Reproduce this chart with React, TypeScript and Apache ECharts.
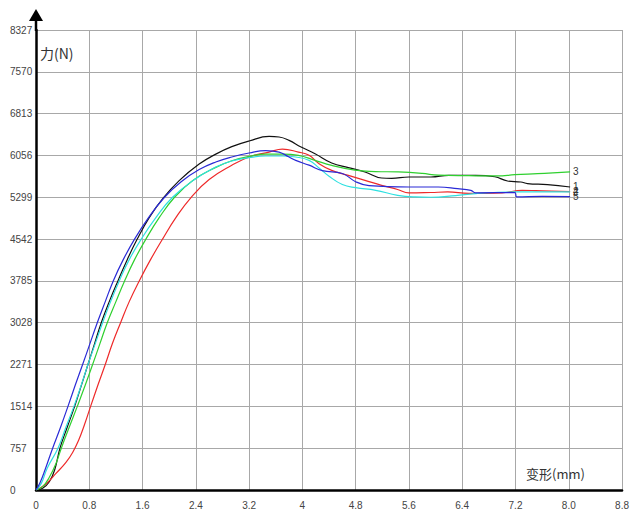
import React, { useEffect, useRef } from "react";
import * as echarts from "echarts";

// Force–deformation curves of five specimens: [deformation (mm), force (N)]
const specimen1: [number, number][] = [
  [0, 0], [0.1, 30], [0.2, 150], [0.28, 362], [0.36, 757], [0.47, 1140], [0.58, 1514],
  [0.68, 1890], [0.78, 2271], [0.88, 2650], [0.98, 3028], [1.1, 3410], [1.23, 3785],
  [1.37, 4170], [1.52, 4542], [1.7, 4930], [1.9, 5270], [2.15, 5600], [2.45, 5900],
  [2.7, 6080], [2.94, 6215], [3.2, 6317], [3.5, 6400], [3.65, 6390], [3.8, 6329],
  [3.98, 6208], [4.19, 6088], [4.44, 5920], [4.69, 5835], [4.94, 5757], [5.19, 5648],
  [5.34, 5640], [5.6, 5666], [5.93, 5666], [6.2, 5696], [6.6, 5696], [6.89, 5670],
  [7.08, 5594], [7.28, 5576], [7.38, 5546], [7.68, 5528], [8.02, 5485],
];

const specimen2: [number, number][] = [
  [0, 0], [0.15, 110], [0.3, 300], [0.45, 500], [0.55, 680], [0.64, 900], [0.73, 1190],
  [0.82, 1514], [0.93, 1900], [1.04, 2271], [1.15, 2660], [1.27, 3028], [1.4, 3410],
  [1.55, 3785], [1.72, 4170], [1.9, 4542], [2.1, 4930], [2.33, 5299], [2.6, 5620],
  [2.94, 5877], [3.2, 6028], [3.5, 6117], [3.7, 6170], [3.94, 6117], [4.1, 6058],
  [4.25, 5907], [4.44, 5786], [4.69, 5696], [4.94, 5606], [5.19, 5515], [5.43, 5440],
  [5.6, 5377], [5.93, 5385], [6.18, 5395], [6.5, 5370], [7.0, 5380], [7.3, 5425],
  [7.5, 5420], [8.02, 5400],
];

const specimen3: [number, number][] = [
  [0, 0], [0.1, 60], [0.2, 230], [0.3, 480], [0.38, 757], [0.5, 1140], [0.62, 1514],
  [0.74, 1900], [0.85, 2271], [0.96, 2650], [1.07, 3028], [1.2, 3410], [1.33, 3785],
  [1.48, 4170], [1.65, 4542], [1.85, 4930], [2.08, 5299], [2.35, 5600], [2.7, 5840],
  [2.94, 5960], [3.2, 6040], [3.45, 6080], [3.7, 6080], [3.94, 6058], [4.19, 5967],
  [4.44, 5877], [4.79, 5790], [5.1, 5765], [5.44, 5757], [5.8, 5730], [6.04, 5700],
  [6.5, 5690], [6.93, 5685], [7.19, 5708], [7.53, 5727], [8.02, 5757],
];

const specimen4: [number, number][] = [
  [0, 0], [0.08, 120], [0.17, 400], [0.33, 757], [0.45, 1140], [0.57, 1514],
  [0.68, 1900], [0.78, 2271], [0.89, 2650], [1.0, 3028], [1.12, 3410], [1.25, 3785],
  [1.4, 4170], [1.58, 4542], [1.8, 4930], [2.05, 5299], [2.38, 5620], [2.7, 5847],
  [2.94, 5955], [3.2, 6016], [3.45, 6046], [3.7, 6046], [3.9, 6028], [4.1, 5967],
  [4.25, 5830], [4.4, 5680], [4.6, 5530], [4.8, 5473], [5.1, 5425], [5.43, 5335],
  [5.69, 5305], [5.93, 5299], [6.3, 5330], [6.6, 5365], [7.19, 5395], [8.02, 5395],
];

const specimen5: [number, number][] = [
  [0, 0], [0.06, 130], [0.14, 380], [0.25, 757], [0.37, 1140], [0.48, 1514],
  [0.59, 1900], [0.7, 2271], [0.81, 2650], [0.92, 3028], [1.04, 3410], [1.16, 3785],
  [1.31, 4170], [1.48, 4542], [1.69, 4930], [1.93, 5299], [2.18, 5580], [2.45, 5800],
  [2.7, 5937], [2.94, 6028], [3.2, 6100], [3.45, 6145], [3.65, 6117], [3.8, 6028],
  [3.9, 5967], [4.1, 5880], [4.3, 5780], [4.6, 5730], [4.8, 5580], [5.0, 5510],
  [5.6, 5485], [6.04, 5485], [6.33, 5455], [6.53, 5425], [6.6, 5380], [7.19, 5383],
  [7.22, 5305], [7.6, 5315], [8.02, 5310],
];

const seriesNames = ["1", "2", "3", "4", "5"];
const seriesColors = ["#111111", "#ee2a2a", "#2fd02f", "#2ee0e0", "#2a2ad6"];
const seriesData = [specimen1, specimen2, specimen3, specimen4, specimen5];

const xTickLabels = ["0", "0.8", "1.6", "2.4", "3.2", "4", "4.8", "5.6", "6.4", "7.2", "8.0", "8.8"];
const yTickLabels = ["0", "757", "1514", "2271", "3028", "3785", "4542", "5299", "6056", "6813", "7570", "8327"];

const xStep = 0.8;
const yStep = 757;

export default function App() {
  const ref = useRef<HTMLDivElement>(null);

  useEffect(() => {
    if (!ref.current) return;
    const chart = echarts.init(ref.current, null, { renderer: "svg" });
    const tickFont = "Liberation Sans, Arial, sans-serif";
    const cjkFont = "Noto Sans CJK SC, sans-serif";

    chart.setOption({
      animation: false,
      backgroundColor: "#ffffff",
      grid: { left: 36, right: 7, top: 30, bottom: 28, containLabel: false },
      xAxis: {
        type: "value",
        min: 0,
        max: xStep * (xTickLabels.length - 1),
        interval: xStep,
        axisLine: { show: true, onZero: false, lineStyle: { color: "#000", width: 2.5 } },
        axisTick: { show: false },
        splitLine: { show: true, lineStyle: { color: "#a8a8a8", width: 1 } },
        axisLabel: {
          margin: 10,
          fontSize: 10,
          color: "#444",
          fontFamily: tickFont,
          formatter: (v: number) => xTickLabels[Math.round(v / xStep)] ?? "",
        },
      },
      yAxis: {
        type: "value",
        min: 0,
        max: yStep * (yTickLabels.length - 1),
        interval: yStep,
        axisLine: { show: true, onZero: false, lineStyle: { color: "#000", width: 2.5 } },
        axisTick: { show: false },
        splitLine: { show: true, lineStyle: { color: "#a8a8a8", width: 1 } },
        axisLabel: {
          margin: 26,
          align: "left",
          fontSize: 10,
          color: "#444",
          fontFamily: tickFont,
          formatter: (v: number) => yTickLabels[Math.round(v / yStep)] ?? "",
        },
      },
      series: seriesData.map((data, i) => ({
        name: seriesNames[i],
        type: "line",
        data,
        showSymbol: false,
        smooth: 0.45,
        lineStyle: { color: seriesColors[i], width: 1.2 },
        itemStyle: { color: seriesColors[i] },
        endLabel: {
          show: true,
          formatter: "{a}",
          distance: 3,
          fontSize: 10,
          color: "#333",
          fontFamily: tickFont,
        },
        z: 3,
      })),
      graphic: [
        {
          type: "line",
          shape: { x1: 36, y1: 31, x2: 36, y2: 18 },
          style: { stroke: "#000", lineWidth: 2.5 },
          z: 10,
        },
        {
          type: "polygon",
          shape: { points: [[36, 9], [29, 21], [43, 21]] },
          style: { fill: "#000" },
          z: 10,
        },
        {
          type: "text",
          x: 40,
          y: 53,
          style: {
            text: "力(N)",
            fontSize: 14,
            fontFamily: cjkFont,
            fill: "#333",
            textVerticalAlign: "middle",
          },
          z: 10,
        },
        {
          type: "text",
          x: 526,
          y: 473,
          style: {
            text: "变形(mm)",
            fontSize: 13,
            fontFamily: cjkFont,
            fill: "#333",
            textVerticalAlign: "middle",
          },
          z: 10,
        },
      ],
    });

    return () => chart.dispose();
  }, []);

  return (
    <div
      ref={ref}
      style={{ position: "fixed", left: 0, top: 0, width: 632, height: 518, background: "#fff" }}
    />
  );
}
